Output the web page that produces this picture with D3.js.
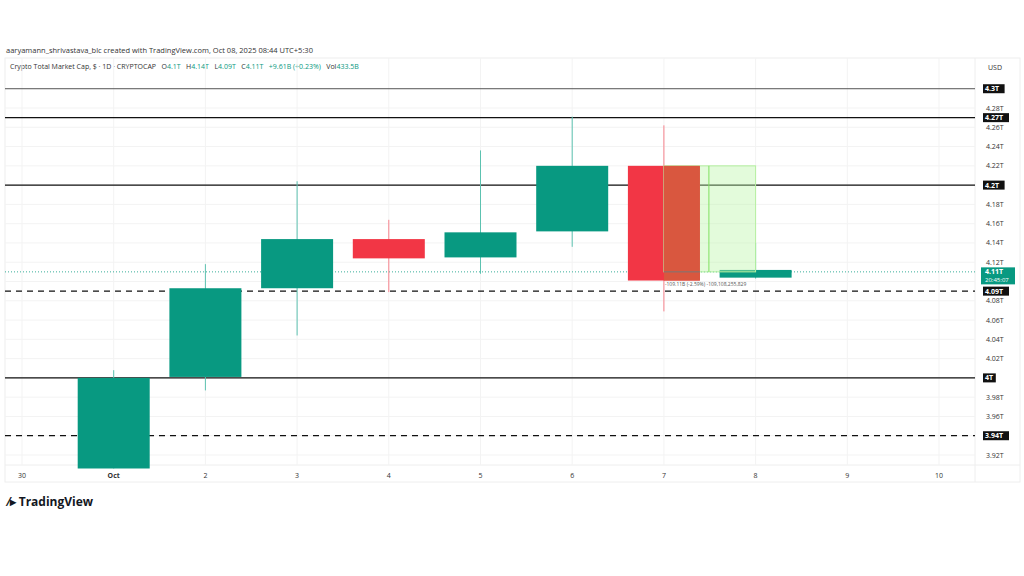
<!DOCTYPE html>
<html><head><meta charset="utf-8">
<script src="https://cdn.jsdelivr.net/npm/d3@7"></script>
<style>body{margin:0;background:#fff;font-family:"Open Sans",sans-serif}</style>
</head><body><div id="chart"></div>
<script>
// data
var days = [1, 2, 3, 4, 5, 6, 7, 8];
var opens = [3.906, 4.001, 4.093, 4.144, 4.125, 4.152, 4.220, 4.104];
var highs = [4.008, 4.118, 4.204, 4.164, 4.236, 4.271, 4.262, 4.140];
var lows = [3.906, 3.987, 4.044, 4.089, 4.108, 4.136, 4.069, 4.103];
var closes = [4.000, 4.093, 4.144, 4.124, 4.151, 4.220, 4.101, 4.112];
var xTicks = [0, 1, 2, 3, 4, 5, 6, 7, 8, 9, 10];
var xTickLabels = ["30", "Oct", "2", "3", "4", "5", "6", "7", "8", "9", "10"];
var yTicks = [3.92, 3.96, 3.98, 4.02, 4.04, 4.06, 4.08, 4.12, 4.14, 4.16, 4.18, 4.22, 4.24, 4.26, 4.28];
var solidLevels = [4.3, 4.27, 4.2, 4.0];
var dashedLevels = [4.09, 3.94];
var lastPrice = 4.11;

var svg = d3.select("#chart").append("svg").attr("width", 1024).attr("height", 576);
svg.append("rect").attr("width", 1024).attr("height", 576).attr("fill", "#fff");

var x = d3.scaleLinear().domain([0, 10]).range([22, 939]);
var y = d3.scaleLinear().domain([3.92, 4.28]).range([455, 108]);
var plotL = 5, plotR = 975, plotT = 58, plotB = 465;

svg.append("text").attr("x", 6).attr("y", 53).attr("font-size", 7.5).attr("fill", "#333")
  .text("aaryamann_shrivastava_blc created with TradingView.com, Oct 08, 2025 08:44 UTC+5:30");
svg.append("rect").attr("x", plotL).attr("y", plotT).attr("width", 1015).attr("height", 424)
  .attr("fill", "none").attr("stroke", "#eee");
svg.append("line").attr("x1", plotR).attr("x2", plotR).attr("y1", plotT).attr("y2", 482).attr("stroke", "#eee");
svg.append("line").attr("x1", plotL).attr("x2", 1020).attr("y1", plotB).attr("y2", plotB).attr("stroke", "#eee");

var hdr = svg.append("text").attr("x", 10).attr("y", 69).attr("font-size", 7).attr("xml:space", "preserve");
hdr.append("tspan").attr("fill", "#333").text("Crypto Total Market Cap, $ · 1D · CRYPTOCAP   O");
[["4.1T", "   H"], ["4.14T", "   L"], ["4.09T", "   C"], ["4.11T", "   "], ["+9.61B (+0.23%)", "   Vol"], ["433.5B", ""]]
  .forEach(function(p) {
    hdr.append("tspan").attr("fill", "#089981").text(p[0]);
    if (p[1]) hdr.append("tspan").attr("fill", "#333").text(p[1]);
  });
svg.append("text").attr("x", 988).attr("y", 70).attr("font-size", 7).attr("fill", "#333").text("USD");

// grid
svg.selectAll(".vg").data(xTicks).enter().append("line")
  .attr("x1", d => x(d)).attr("x2", d => x(d)).attr("y1", plotT).attr("y2", plotB)
  .attr("stroke", "#f3f3f3");
svg.selectAll(".hg").data(yTicks.concat([4.0, 4.1, 4.2, 3.94])).enter().append("line")
  .attr("x1", plotL).attr("x2", plotR).attr("y1", d => y(d)).attr("y2", d => y(d))
  .attr("stroke", "#f3f3f3");

// axes labels
svg.selectAll(".xl").data(xTicks).enter().append("text")
  .attr("x", d => x(d)).attr("y", 478).attr("text-anchor", "middle")
  .attr("font-size", 7).attr("fill", "#333").attr("font-weight", (d, i) => i == 1 ? "bold" : null)
  .text((d, i) => xTickLabels[i]);
svg.selectAll(".yl").data(yTicks).enter().append("text")
  .attr("x", 986).attr("y", d => y(d) + 2.5).attr("font-size", 7).attr("fill", "#333")
  .text(d => d.toFixed(2) + "T");

// level lines
svg.selectAll(".sl").data(solidLevels).enter().append("line")
  .attr("x1", plotL).attr("x2", plotR).attr("y1", d => y(d)).attr("y2", d => y(d))
  .attr("stroke", (d, i) => i == 0 ? "#555" : "#111").attr("stroke-width", (d, i) => i == 0 ? 1 : 1.3);
svg.selectAll(".dl").data(dashedLevels).enter().append("line")
  .attr("x1", plotL).attr("x2", plotR).attr("y1", d => y(d)).attr("y2", d => y(d))
  .attr("stroke", "#111").attr("stroke-width", 1.3).attr("stroke-dasharray", "6,5");
svg.append("line").attr("x1", plotL).attr("x2", plotR).attr("y1", y(lastPrice)).attr("y2", y(lastPrice))
  .attr("stroke", "#089981").attr("stroke-dasharray", "1,2").attr("stroke-width", 0.8);

// candles
var cw = 72;
var candles = days.map((d, i) => ({d: d, o: opens[i], h: highs[i], l: lows[i], c: closes[i]}));
var col = c => c.c >= c.o ? "#089981" : "#f23645";
var g = svg.append("g");
g.selectAll(".wick").data(candles).enter().append("line")
  .attr("x1", c => x(c.d)).attr("x2", c => x(c.d)).attr("y1", c => y(c.h)).attr("y2", c => y(c.l))
  .attr("stroke", c => c.c >= c.o ? "#5cc2b0" : "#f7828c");
g.selectAll(".body").data(candles).enter().append("rect")
  .attr("x", c => x(c.d) - cw / 2).attr("width", cw)
  .attr("y", c => y(Math.max(c.o, c.c))).attr("height", c => Math.max(1, Math.abs(y(c.o) - y(c.c))))
  .attr("fill", col);

// measure box from Oct 7 to Oct 8
var mx0 = x(7), mx1 = x(8);
svg.append("rect").attr("x", mx0).attr("y", y(4.22)).attr("width", mx1 - mx0).attr("height", y(lastPrice) - y(4.22))
  .attr("fill", "rgba(185,245,165,0.4)").attr("stroke", "#b5f0a0").attr("stroke-width", 1);
svg.append("rect").attr("x", mx0).attr("y", y(4.22)).attr("width", x(7) + cw / 2 - mx0).attr("height", y(4.101) - y(4.22))
  .attr("fill", "#d9573f");
svg.append("line").attr("x1", mx0 + 45).attr("x2", mx0 + 45).attr("y1", y(4.22)).attr("y2", y(lastPrice))
  .attr("stroke", "#7fe060");
svg.append("line").attr("x1", mx0).attr("x2", x(7) + cw / 2).attr("y1", y(lastPrice)).attr("y2", y(lastPrice))
  .attr("stroke", "#777");
svg.append("text").attr("x", mx0 + 1).attr("y", y(4.1) + 4).attr("font-size", 5).attr("fill", "#555")
  .text("-109.11B (-2.59%) -109,108,255,829");

// right labels
function tag(v, txt, fill, h) {
  svg.append("rect").attr("x", 983).attr("y", y(v) - 4.5).attr("width", txt.length * 4.4 + 4).attr("height", h || 9).attr("fill", fill);
  svg.append("text").attr("x", 985).attr("y", y(v) + 2.5).attr("font-size", 7).attr("font-weight", "bold")
    .attr("fill", "#fff").text(txt);
}
solidLevels.concat(dashedLevels).forEach(v => tag(v, (+v.toFixed(2)) + "T", "#111"));
svg.append("rect").attr("x", 981).attr("y", y(lastPrice) - 4.5).attr("width", 34).attr("height", 17).attr("fill", "#089981");
svg.append("text").attr("x", 985).attr("y", y(lastPrice) + 2.5).attr("font-size", 7).attr("font-weight", "bold").attr("fill", "#fff").text("4.11T");
svg.append("text").attr("x", 985).attr("y", y(lastPrice) + 10).attr("font-size", 6).attr("fill", "#fff").text("20:45:07");

// logo
svg.append("text").attr("x", 8).attr("y", 506).attr("font-size", 12).attr("font-weight", "bold").attr("fill", "#131722").text("⁄▸ TradingView");
</script></body></html>
